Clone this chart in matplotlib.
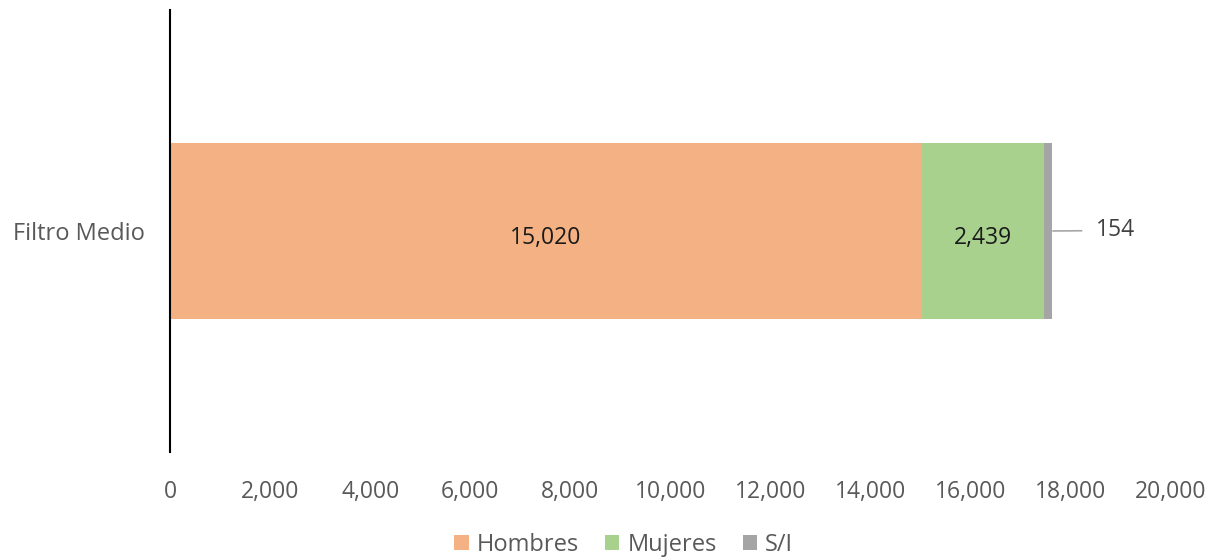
import matplotlib.pyplot as plt
from matplotlib.ticker import FuncFormatter

plt.rcParams['font.family'] = ['Open Sans', 'DejaVu Sans']

categories = ["Filtro Medio"]
series = ["Hombres", "Mujeres", "S/I"]
values = [[15020], [2439], [154]]
colors = ["#F4B183", "#A9D18E", "#A5A5A5"]
xticks = [0, 2000, 4000, 6000, 8000, 10000, 12000, 14000, 16000, 18000, 20000]

fig = plt.figure(figsize=(12.21, 5.6), dpi=100)
ax = fig.add_axes([170 / 1221, 108 / 560, 1001 / 1221, 442 / 560])

left = [0] * len(categories)
bars = []
for name, vals, col in zip(series, values, colors):
    b = ax.barh(categories, vals, left=left, height=0.4, color=col, label=name)
    bars.append(b)
    left = [l + v for l, v in zip(left, vals)]

# labels inside the two large segments
for b, vals in zip(bars[:2], values[:2]):
    for rect, v in zip(b, vals):
        ax.text(rect.get_x() + rect.get_width() / 2, rect.get_y() + rect.get_height() / 2 - 0.01,
                f"{v:,}", ha="center", va="center_baseline", fontsize=16.5, color="#1a1a1a")

# small segment gets a label outside with a leader line
rect = bars[2][0]
xe = rect.get_x() + rect.get_width()
yc = rect.get_y() + rect.get_height() / 2
ax.annotate(f"{values[2][0]:,}", xy=(xe, yc), xytext=(xe + 880, yc + 0.008),
            fontsize=16.5, color="#404040", va="center_baseline", ha="left",
            arrowprops=dict(arrowstyle="-", color="#A6A6A6", lw=1.2,
                            shrinkA=8, shrinkB=1))

ax.set_xlim(0, 20000)
ax.set_ylim(-0.5, 0.5)
ax.set_xticks(xticks)
ax.xaxis.set_major_formatter(FuncFormatter(lambda x, p: f"{int(x):,}"))
ax.tick_params(axis="x", length=0, pad=20, labelsize=16.5, labelcolor="#595959")
ax.tick_params(axis="y", length=0, pad=18, labelsize=17, labelcolor="#595959")

for s in ["top", "right", "bottom"]:
    ax.spines[s].set_visible(False)
ax.spines["left"].set_color("black")
ax.spines["left"].set_linewidth(1.5)

leg = fig.legend(loc="center", bbox_to_anchor=(0.511, 1 - 545 / 560), ncol=3, frameon=False,
                 fontsize=17, handlelength=0.6, handleheight=0.6, handletextpad=0.35,
                 columnspacing=1.1)
for t in leg.get_texts():
    t.set_color("#595959")

fig.savefig("out.png", dpi=100)
